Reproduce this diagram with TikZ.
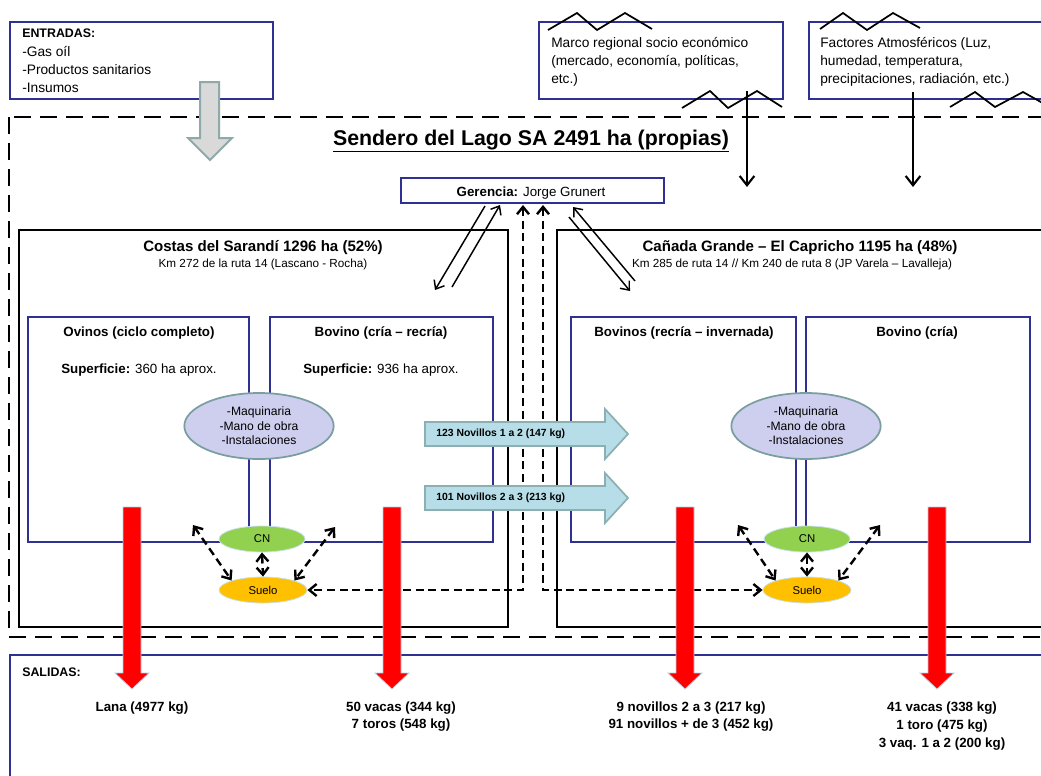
\documentclass[tikz,border=0pt]{standalone}
\usepackage{fontspec}
\setmainfont{Liberation Sans}
\usetikzlibrary{arrows.meta,fit,shapes.geometric,calc}
\definecolor{boxblue}{RGB}{46,49,146}
\definecolor{lav}{RGB}{206,206,238}
\definecolor{tealgray}{RGB}{122,158,160}
\definecolor{cngreen}{RGB}{146,208,80}
\definecolor{soilorange}{RGB}{255,192,0}
\definecolor{cyanfill}{RGB}{183,222,232}
\definecolor{cyanedge}{RGB}{140,176,178}
\definecolor{grayfill}{RGB}{217,217,217}
\definecolor{grayedge}{RGB}{143,169,169}
\definecolor{rededge}{RGB}{185,205,222}
\definecolor{lightedge}{RGB}{200,225,235}
\newcommand\fsz[2]{\fontsize{#1}{#2}\selectfont}
\newcommand\redarrow[1]{\draw[redarr] ({#1-9},507) -- ({#1+9},507) -- ({#1+9},673) -- ({#1+17},673) -- (#1,689) -- ({#1-17},673) -- ({#1-9},673) -- cycle;}
\begin{document}
\begin{tikzpicture}[x=0.75pt,y=-0.75pt,
  >={Straight Barb[length=5.5pt,width=9pt]},
  bluebox/.style={draw=boxblue,line width=1.7pt,inner sep=0pt},
  blackbox/.style={draw=black,line width=1.4pt,inner sep=0pt},
  zig/.style={draw=black,line width=1.3pt},
  outerdash/.style={draw=black,line width=2pt,dash pattern=on 13pt off 6.5pt},
  bodytext/.style={inner sep=0pt,align=left,font=\fsz{10.3}{13.7}},
  headtext/.style={inner sep=0pt,font=\bfseries\fsz{9.3}{11}},
  farmtitle/.style={inner sep=0pt,font=\bfseries\fsz{11.3}{13}},
  farmsub/.style={inner sep=0pt,font=\fsz{8.8}{10}},
  unittitle/.style={inner sep=0pt,font=\bfseries\fsz{10}{12}},
  areatext/.style={inner sep=0pt,font=\fsz{10}{12}},
  resource/.style={ellipse,draw=tealgray,line width=1.3pt,fill=lav,minimum width=112pt,minimum height=49.5pt,inner sep=0pt,align=center,font=\fsz{9.1}{10.9}},
  cnnode/.style={ellipse,draw=lightedge,line width=0.6pt,fill=cngreen,minimum width=64.5pt,minimum height=19.5pt,inner sep=0pt,font=\fsz{8.5}{10}},
  soilnode/.style={ellipse,draw=lightedge,line width=0.6pt,fill=soilorange,minimum width=66pt,minimum height=19.5pt,inner sep=0pt,font=\fsz{8.5}{10}},
  thinarr/.style={->,line width=1.1pt},
  dasharr/.style={<->,line width=1.8pt,dash pattern=on 6pt off 3.5pt},
  bigarr/.style={-{Straight Barb[length=7pt,width=11pt]},line width=1.6pt},
  cyanarr/.style={fill=cyanfill,draw=cyanedge,line width=1.3pt},
  arrtext/.style={inner sep=0pt,font=\bfseries\fsz{7.8}{9}},
  redarr/.style={fill=red,draw=rededge,line width=0.6pt},
  grayarr/.style={fill=grayfill,draw=grayedge,line width=1.5pt},
  outtext/.style={inner sep=0pt,align=center,font=\bfseries\fsz{10}{13.2}}]
\useasboundingbox (0,0) rectangle (1041,775);
\fill[white] (0,0) rectangle (1041,775);
\clip (0,0) rectangle (1041,775);

% ---------- inputs and external factors ----------
\node[bluebox,fill=white,fit={(10,22)(273,99)}] (entradas) {};
\node[bodytext,anchor=west] (entradasText) at (22,61) {{\bfseries\fsz{9.3}{13.7}ENTRADAS:}\\-Gas oíl\\-Productos sanitarios\\-Insumos};
\node[bluebox,fill=white,fit={(539,22)(783,99)}] (marco) {};
\node[bodytext,anchor=west] (marcoText) at (551,62) {Marco regional socio económico\\(mercado, economía, políticas,\\etc.)};
\node[bluebox,fill=white,fit={(809,22)(1060,99)}] (factores) {};
\node[bodytext,anchor=west] (factoresText) at (820,62) {Factores Atmosféricos (Luz,\\humedad, temperatura,\\precipitaciones, radiación, etc.)};

\draw[zig] (548,30) -- (577,13) -- (597,30) -- (625,13) -- (652,29);
\draw[zig] (682,108) -- (710,91) -- (728,108) -- (757,91) -- (782,107);
\draw[zig] (820,29) -- (843,13) -- (867,30) -- (893,13) -- (920,28);
\draw[zig] (950,107) -- (975,92) -- (995,107) -- (1023,92) -- (1048,106);

% ---------- company frame ----------
\draw[outerdash] (9,117) rectangle (1060,637);
\node[font=\bfseries\fsz{16}{19},inner sep=0pt,anchor=base] (title) at (531,145) {\underline{Sendero del Lago SA 2491 ha (propias)}};

\node[bluebox,fill=white,fit={(401,178)(664,203)}] (gerencia) {};
\node[inner sep=0pt,font=\fsz{10}{12},anchor=base] (gerenciaText) at (531,196) {\textbf{Gerencia:} Jorge Grunert};

% ---------- farms ----------
\node[blackbox,fit={(19,230)(508,627)}] (costas) {};
\node[farmtitle,anchor=base] (costasTitle) at (263,251) {Costas del Sarandí 1296 ha (52\%)};
\node[farmsub,anchor=base] (costasSub) at (263,267) {Km 272 de la ruta 14 (Lascano - Rocha)};
\node[blackbox,fit={(557,230)(1043,627)}] (canada) {};
\node[farmtitle,anchor=base] (canadaTitle) at (800,251) {Cañada Grande – El Capricho 1195 ha (48\%)};
\node[farmsub,anchor=base] (canadaSub) at (792,267) {Km 285 de ruta 14 // Km 240 de ruta 8 (JP Varela – Lavalleja)};

\node[bluebox,fit={(28,317)(249,542)}] (ovinos) {};
\node[bluebox,fit={(270,317)(493,542)}] (bovinoA) {};
\node[bluebox,fit={(571,317)(796,542)}] (bovinosB) {};
\node[bluebox,fit={(806,317)(1030,542)}] (bovinoC) {};
\node[unittitle,anchor=base] (ovinosT) at (139,336) {Ovinos (ciclo completo)};
\node[unittitle,anchor=base] (bovinoAT) at (381,336) {Bovino (cría – recría)};
\node[unittitle,anchor=base] (bovinosBT) at (684,336) {Bovinos (recría – invernada)};
\node[unittitle,anchor=base] (bovinoCT) at (917,336) {Bovino (cría)};
\node[areatext,anchor=base] (supA) at (139,373) {\textbf{Superficie:} 360 ha aprox.};
\node[areatext,anchor=base] (supB) at (381,373) {\textbf{Superficie:} 936 ha aprox.};

\node[resource] (rec1) at (259,426) {-Maquinaria\\-Mano de obra\\-Instalaciones};
\node[resource] (rec2) at (806,426) {-Maquinaria\\-Mano de obra\\-Instalaciones};
\node[cnnode] (cn1) at (262,539) {CN};
\node[cnnode] (cn2) at (807,539) {CN};
\node[soilnode] (suelo1) at (263,590) {Suelo};
\node[soilnode] (suelo2) at (807,590) {Suelo};

% ---------- connectors ----------
\coordinate (mk1) at (747,91);  \coordinate (mk2) at (747,187);
\coordinate (fk1) at (913,92);  \coordinate (fk2) at (913,187);
\draw[bigarr] (mk1) -- (mk2);
\draw[bigarr] (fk1) -- (fk2);

\coordinate (gl1) at (485,206); \coordinate (gl1e) at (435,290);
\coordinate (gl2) at (452,287); \coordinate (gl2e) at (500,205);
\coordinate (gr1) at (635,281); \coordinate (gr1e) at (573,207);
\coordinate (gr2) at (569,217); \coordinate (gr2e) at (630,291);
\draw[thinarr] (gl1) -- (gl1e);
\draw[thinarr] (gl2) -- (gl2e);
\draw[thinarr] (gr1) -- (gr1e);
\draw[thinarr] (gr2) -- (gr2e);

\coordinate (gd1) at (523,205);
\coordinate (gd2) at (543,205);
\draw[dasharr] (gd1) |- (suelo1.east);
\draw[dasharr] (gd2) |- (suelo2.west);

\coordinate (cd1) at (193,525); \coordinate (cd2) at (335,527);
\coordinate (cd3) at (738,525); \coordinate (cd4) at (880,525);
\draw[dasharr] (cn1.south) -- (suelo1.north);
\draw[dasharr] (cd1) -- (suelo1.north west);
\draw[dasharr] (cd2) -- (suelo1.north east);
\draw[dasharr] (cn2.south) -- (suelo2.north);
\draw[dasharr] (cd3) -- (suelo2.north west);
\draw[dasharr] (cd4) -- (suelo2.north east);

% ---------- transfers between farms ----------
\path[cyanarr] (425,422) -- (605,422) -- (605,409) -- (628,434) -- (605,459) -- (605,446) -- (425,446) -- cycle;
\node[arrtext,anchor=west] (nov1) at (436,434) {123 Novillos 1 a 2 (147 kg)};
\path[cyanarr] (425,486) -- (605,486) -- (605,473) -- (628,498) -- (605,523) -- (605,510) -- (425,510) -- cycle;
\node[arrtext,anchor=west] (nov2) at (436,498) {101 Novillos 2 a 3 (213 kg)};

% ---------- inputs arrow ----------
\path[grayarr] (200,82) -- (219,82) -- (219,138) -- (232,138) -- (210,160) -- (188,138) -- (200,138) -- cycle;

% ---------- outputs ----------
\node[bluebox,fit={(10,655)(1060,790)}] (salidas) {};
\node[headtext,anchor=west] (salidasText) at (22,672) {SALIDAS:};
\redarrow{132}
\redarrow{392}
\redarrow{685}
\redarrow{937}
\node[outtext] (out1) at (142,708) {Lana (4977 kg)};
\node[outtext] (out2) at (401,716.5) {50 vacas (344 kg)\\7 toros (548 kg)};
\node[outtext] (out3) at (691,716.5) {9 novillos 2 a 3 (217 kg)\\91 novillos + de 3 (452 kg)};
\node[outtext] (out4) at (942,726) {41 vacas (338 kg)\\1 toro (475 kg)\\3 vaq. 1 a 2 (200 kg)};
\end{tikzpicture}
\end{document}
